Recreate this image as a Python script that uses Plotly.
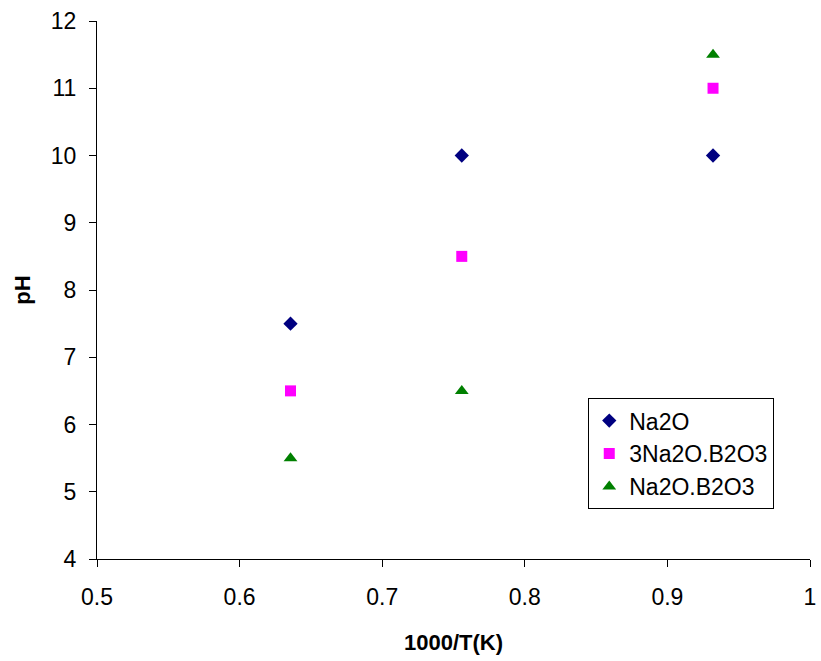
import plotly.graph_objects as go

# 1000/T for the three firing temperatures
inv_temp = [0.6357, 0.7558, 0.9320]

ph_na2o = [7.5, 10.0, 10.0]
ph_3na2o_b2o3 = [6.5, 8.5, 11.0]
ph_na2o_b2o3 = [5.5, 6.5, 11.5]

x_ticks = [0.5, 0.6, 0.7, 0.8, 0.9, 1.0]
x_tick_text = ["0.5", "0.6", "0.7", "0.8", "0.9", "1"]
y_ticks = [4, 5, 6, 7, 8, 9, 10, 11, 12]

fig = go.Figure()
fig.add_trace(go.Scatter(x=inv_temp, y=ph_na2o, mode="markers", name="Na2O",
                         marker=dict(symbol="diamond", size=11, color="#000080")))
fig.add_trace(go.Scatter(x=inv_temp, y=ph_3na2o_b2o3, mode="markers", name="3Na2O.B2O3",
                         marker=dict(symbol="square", size=11, color="#FF00FF")))
fig.add_trace(go.Scatter(x=inv_temp, y=ph_na2o_b2o3, mode="markers", name="Na2O.B2O3",
                         marker=dict(symbol="triangle-up", size=12, color="#008000")))

font = "Liberation Sans, Arial, sans-serif"
fig.update_layout(
    width=821, height=661,
    margin=dict(l=97, r=11, t=21, b=102, autoexpand=False),
    paper_bgcolor="white", plot_bgcolor="white",
    font=dict(family=font, size=23, color="black"),
    showlegend=True,
    legend=dict(x=0.689, y=0.299, xanchor="left", yanchor="top",
                bgcolor="white", bordercolor="black", borderwidth=1,
                font=dict(size=23, family=font), itemsizing="trace",
                tracegroupgap=0),
    xaxis=dict(range=[0.5, 1.0], tickvals=x_ticks, ticktext=x_tick_text,
               showgrid=False, zeroline=False, showline=True, linecolor="black",
               linewidth=1, ticks="outside", ticklen=7, tickcolor="black",
               tickfont=dict(size=23), ticklabelstandoff=10,
               ticklabeloverflow="allow", automargin=False,
               title=dict(text="<b>1000/T(K)</b>", font=dict(size=22), standoff=26)),
    yaxis=dict(range=[4, 12], tickvals=y_ticks,
               showgrid=False, zeroline=False, showline=True, linecolor="black",
               linewidth=1, ticks="outside", ticklen=7, tickcolor="black",
               tickfont=dict(size=23), ticklabelstandoff=8,
               ticklabeloverflow="allow", automargin=False,
               title=dict(text="<b>pH</b>", font=dict(size=22), standoff=14)),
)

fig.write_html("out.html")
